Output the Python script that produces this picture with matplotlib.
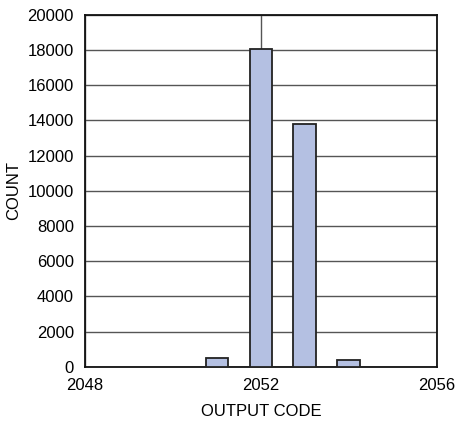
import matplotlib
matplotlib.use("Agg")
import matplotlib.pyplot as plt

# histogram of output codes
codes = [2051, 2052, 2053, 2054]
counts = [500, 18050, 13780, 400]

x_ticks = [2048, 2052, 2056]
y_ticks = list(range(0, 20001, 2000))

plt.rcParams['font.family'] = ['Liberation Sans', 'DejaVu Sans']

fig = plt.figure(figsize=(4.55, 4.25), dpi=100)
ax = fig.add_axes([0.187, 0.137, 0.773, 0.828])

ax.bar(codes, counts, width=0.52, color='#b4c0e2', edgecolor='#222222',
       linewidth=1.3, zorder=3)

ax.set_xlim(2048, 2056)
ax.set_ylim(0, 20000)
ax.set_xticks(x_ticks)
ax.set_yticks(y_ticks)
ax.grid(True, color='#555555', linewidth=1.0, zorder=0)
ax.set_axisbelow(True)
ax.tick_params(length=0, labelsize=12, pad=8)
for s in ax.spines.values():
    s.set_linewidth(1.3)
    s.set_color('#111111')

ax.set_xlabel('OUTPUT CODE', fontsize=12, labelpad=8)
ax.set_ylabel('COUNT', fontsize=12, labelpad=5)

fig.savefig('out.png', dpi=100)
